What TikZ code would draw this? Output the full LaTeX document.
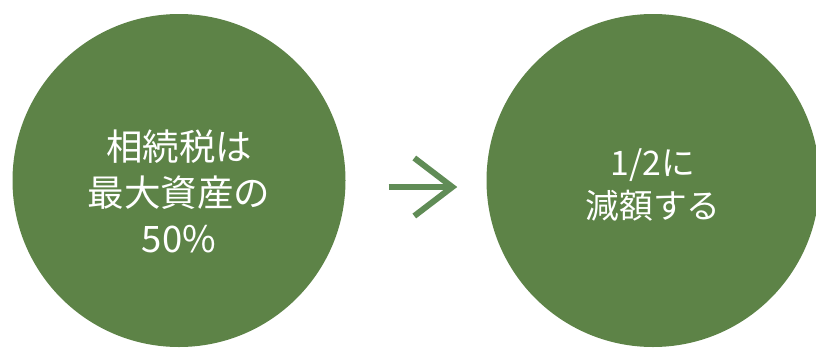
\documentclass[tikz,border=0pt]{standalone}
\usepackage{fontspec}
\setmainfont{Noto Sans CJK JP}
\usetikzlibrary{calc, positioning}
\usetikzlibrary{arrows.meta}

\definecolor{disc}{RGB}{93,131,71}
\definecolor{arrowgreen}{RGB}{96,140,86}

\tikzset{
  bigdisc/.style={circle, fill=disc, draw=none, minimum size=333pt, inner sep=0pt},
  disctext/.style={text=white, align=center, inner sep=0pt},
  arrowline/.style={draw=arrowgreen, line width=6pt, miter limit=4}
}

\begin{document}
\begin{tikzpicture}[x=1pt, y=-1pt]
\useasboundingbox (0,0) rectangle (816,349);
\clip (0,0) rectangle (816,349);

\node[bigdisc] (before) at (179,180.5) {};
\node[bigdisc] (after) at (653,180.5) {};

\node[disctext, font=\fontsize{36.5}{46}\selectfont] (beforetext)
  at ([yshift=-11pt]before.center) {相続税は\\最大資産の\\50\%};
\node[disctext, font=\fontsize{33.8}{43}\selectfont] (aftertext)
  at ([yshift=-4pt]after.center) {1/2に\\減額する};

\coordinate (from) at ([xshift=43pt, yshift=-6.5pt]before.east);
\coordinate (to) at ([xshift=-34pt, yshift=-6.5pt]after.west);

\draw[arrowline] (from) -- (to);
\draw[arrowline] ($(to)+(-38,-29)$) -- (to) -- ($(to)+(-38,29)$);
\end{tikzpicture}
\end{document}
